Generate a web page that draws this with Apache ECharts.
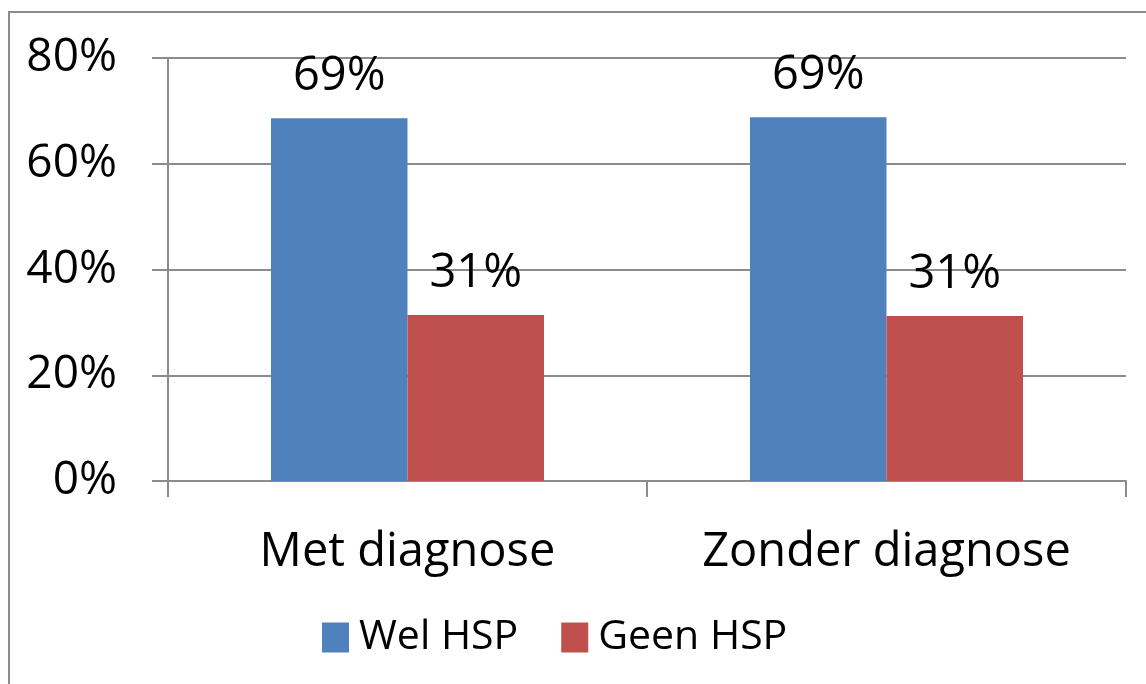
<!DOCTYPE html>
<html>
<head>
<meta charset="utf-8">
<script src="https://cdn.jsdelivr.net/npm/echarts@6/dist/echarts.min.js"></script>
<style>html,body{margin:0;padding:0;background:#fff;}#c{width:1146px;height:684px;}</style>
</head>
<body>
<div id="c"></div>
<script>
var categories = ['Met diagnose', 'Zonder diagnose'];
var welHSP = [68.6, 68.8];
var geenHSP = [31.4, 31.2];
var yTicks = [0, 20, 40, 60, 80];

var FONT = '"Open Sans", "Liberation Sans", sans-serif';
var chart = echarts.init(document.getElementById('c'), null, {renderer: 'canvas'});
var lbl = {
  show: true, position: 'top', distance: 18, color: '#000',
  fontFamily: FONT, fontSize: 47,
  formatter: function (p) { return Math.round(p.value) + '%'; }
};
chart.setOption({
  animation: false,
  backgroundColor: '#fff',
  graphic: [{
    type: 'rect', silent: true, z: -1,
    shape: {x: 9, y: 12, width: 1200, height: 720},
    style: {fill: 'none', stroke: '#8c8c8c', lineWidth: 2}
  }],
  grid: {left: 168, right: 20, top: 58, bottom: 203},
  legend: {
    data: ['Wel HSP', 'Geen HSP'],
    bottom: 21, left: 317,
    itemWidth: 27, itemHeight: 30, itemGap: 43,
    icon: 'rect',
    textStyle: {fontFamily: FONT, fontSize: 41, color: '#000', padding: [0, 0, 0, 5]}
  },
  xAxis: {
    type: 'category', data: categories,
    axisLine: {lineStyle: {color: '#8c8c8c', width: 2}},
    axisTick: {show: true, length: 16, lineStyle: {color: '#8c8c8c', width: 2}},
    axisLabel: {color: '#000', fontFamily: FONT, fontSize: 47, margin: 48,
      interval: 0, hideOverlap: false}
  },
  yAxis: {
    type: 'value', min: yTicks[0], max: yTicks[yTicks.length - 1], interval: 20,
    axisLine: {show: true, lineStyle: {color: '#8c8c8c', width: 2}},
    axisTick: {show: true, length: 16, lineStyle: {color: '#8c8c8c', width: 2}},
    splitLine: {lineStyle: {color: '#8c8c8c', width: 2}},
    axisLabel: {color: '#000', fontFamily: FONT, fontSize: 46, margin: 51,
      formatter: function (v) { return v + '%'; }}
  },
  series: [
    {name: 'Wel HSP', type: 'bar', data: welHSP, barGap: '0%', barCategoryGap: '43%',
     itemStyle: {color: '#4f81bd'}, label: lbl},
    {name: 'Geen HSP', type: 'bar', data: geenHSP, barGap: '0%', barCategoryGap: '43%',
     itemStyle: {color: '#c0504d'}, label: lbl}
  ]
});
</script>
</body>
</html>
